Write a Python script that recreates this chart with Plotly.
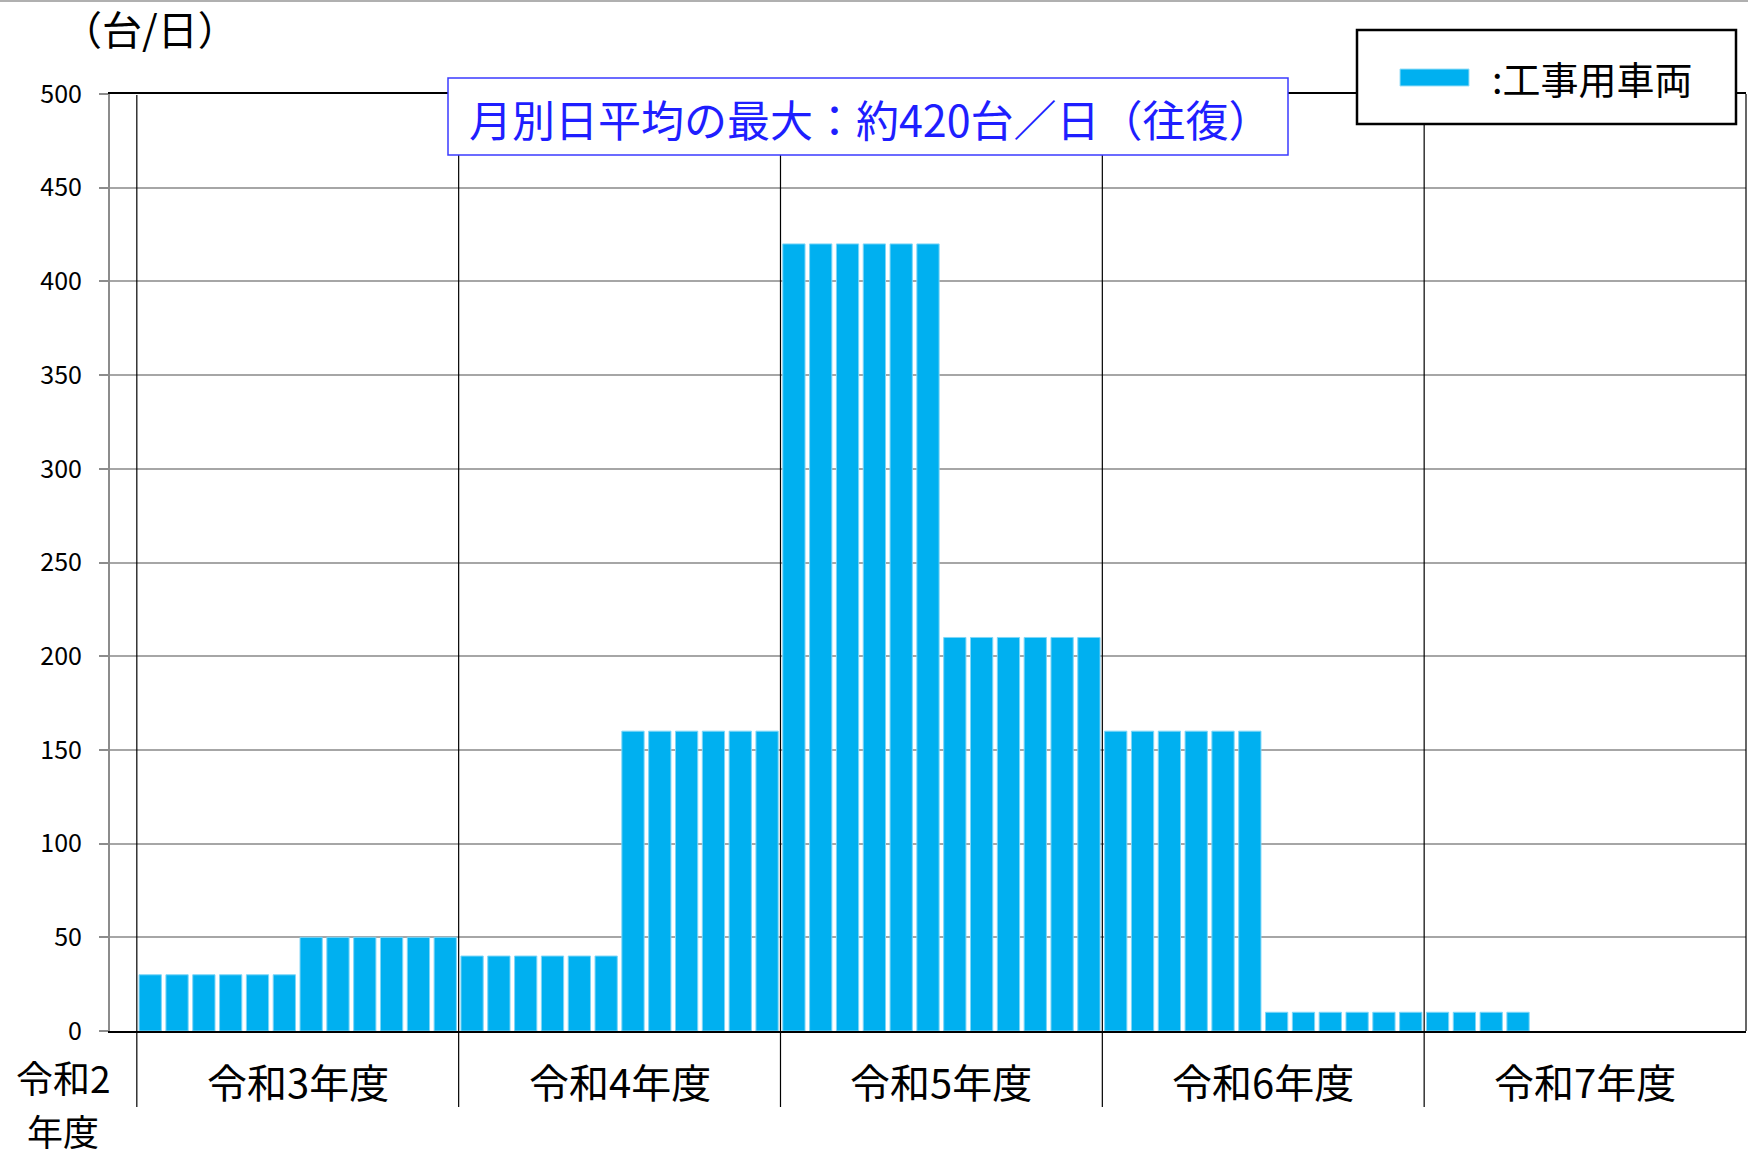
import plotly.graph_objects as go

# ---------------- data ----------------
fiscal_years = ["令和2年度", "令和3年度", "令和4年度", "令和5年度", "令和6年度", "令和7年度"]
r2_values = [None]  # 令和2年度 (March only, no traffic)
r3_values = [30, 30, 30, 30, 30, 30, 50, 50, 50, 50, 50, 50]
r4_values = [40, 40, 40, 40, 40, 40, 160, 160, 160, 160, 160, 160]
r5_values = [420, 420, 420, 420, 420, 420, 210, 210, 210, 210, 210, 210]
r6_values = [160, 160, 160, 160, 160, 160, 10, 10, 10, 10, 10, 10]
r7_values = [10, 10, 10, 10, None, None, None, None, None, None, None, None]
y_ticks = [0, 50, 100, 150, 200, 250, 300, 350, 400, 450, 500]
series_name = "工事用車両"
y_unit = "（台/日）"
headline = "月別日平均の最大：約420台／日（往復）"

monthly = r2_values + r3_values + r4_values + r5_values + r6_values + r7_values
x_pos = list(range(len(monthly)))
year_sizes = [len(r2_values), len(r3_values), len(r4_values), len(r5_values), len(r6_values), len(r7_values)]

# ---------------- layout geometry ----------------
W, H = 1748, 1157
L, R, T, B = 110, 2, 94, 126
PW, PH = W - L - R, H - T - B
FONT = "Noto Sans CJK JP"
CYAN = "#00B0F0"
BLUE = "#1E1EFF"


def px_x(p):
    return (p - L) / PW


def px_y(p):
    return (H - B - p) / PH


fig = go.Figure()
fig.add_trace(go.Bar(
    x=x_pos, y=monthly, name=series_name,
    marker=dict(color=CYAN, line=dict(color="#7FD6F7", width=1)),
    showlegend=False,
))

shapes = []
annotations = []

# fiscal-year dividers and labels
start = 0
bounds = []
for n in year_sizes:
    bounds.append((start - 0.5, start + n - 0.5))
    start += n
for i, (a, b) in enumerate(bounds):
    if i > 0:
        shapes.append(dict(type="line", xref="x", yref="paper", x0=a, x1=a,
                           y0=px_y(1107), y1=px_y(95), line=dict(color="black", width=1.2),
                           layer="above"))
for i, (a, b) in enumerate(bounds):
    if i == 0:
        first, second = fiscal_years[0][:3], fiscal_years[0][3:]
        annotations.append(dict(xref="paper", yref="paper", x=px_x(63), y=px_y(1077),
                                text=first, showarrow=False,
                                font=dict(size=37, color="black", family=FONT),
                                xanchor="center", yanchor="middle"))
        annotations.append(dict(xref="paper", yref="paper", x=px_x(63), y=px_y(1130),
                                text=second, showarrow=False,
                                font=dict(size=36, color="black", family=FONT),
                                xanchor="center", yanchor="middle"))
    else:
        annotations.append(dict(xref="x", yref="paper", x=(a + b) / 2, y=px_y(1081),
                                text=fiscal_years[i], showarrow=False,
                                font=dict(size=40, color="black", family=FONT),
                                xanchor="center", yanchor="middle"))

# right frame line
shapes.append(dict(type="line", xref="paper", yref="paper", x0=1, x1=1, y0=0, y1=1,
                   line=dict(color="black", width=1.2), layer="above"))
# top gray border line of image
shapes.append(dict(type="line", xref="paper", yref="paper", x0=px_x(0), x1=px_x(W), y0=px_y(1), y1=px_y(1),
                   line=dict(color="#B0B0B0", width=2), layer="above"))

# headline box
shapes.append(dict(type="rect", xref="paper", yref="paper", x0=px_x(448), x1=px_x(1288),
                   y0=px_y(155), y1=px_y(78), fillcolor="white",
                   line=dict(color="#3B3BFF", width=1.5), layer="above"))
annotations.append(dict(xref="paper", yref="paper", x=px_x(870), y=px_y(118), text=headline,
                        showarrow=False, font=dict(size=43, color=BLUE, family=FONT),
                        xanchor="center", yanchor="middle"))

# legend box
shapes.append(dict(type="rect", xref="paper", yref="paper", x0=px_x(1357), x1=px_x(1736),
                   y0=px_y(124), y1=px_y(30), fillcolor="white",
                   line=dict(color="black", width=2.5), layer="above"))
shapes.append(dict(type="rect", xref="paper", yref="paper", x0=px_x(1400), x1=px_x(1469),
                   y0=px_y(86), y1=px_y(69), fillcolor=CYAN,
                   line=dict(color="#9ADFF7", width=1), layer="above"))
annotations.append(dict(xref="paper", yref="paper", x=px_x(1490), y=px_y(78), text=":" + series_name,
                        showarrow=False, font=dict(size=38, color="black", family=FONT),
                        xanchor="left", yanchor="middle"))

# unit label
annotations.append(dict(xref="paper", yref="paper", x=px_x(150), y=px_y(28), text=y_unit,
                        showarrow=False, font=dict(size=40, color="black", family=FONT),
                        xanchor="center", yanchor="middle"))

fig.update_layout(
    width=W, height=H,
    margin=dict(l=L, r=R, t=T, b=B, pad=0),
    paper_bgcolor="white", plot_bgcolor="white",
    bargap=0.17,
    font=dict(family=FONT, color="black"),
    shapes=shapes, annotations=annotations,
    xaxis=dict(range=[-0.5, len(monthly) - 0.5], showticklabels=False, ticks="",
               showgrid=False, zeroline=False, showline=True, linecolor="black",
               linewidth=1.5, mirror=True, fixedrange=True),
    yaxis=dict(range=[0, 500], tickvals=y_ticks, ticks="outside", ticklen=9,
               tickcolor="#8C8C8C", tickwidth=1.5, showline=True, linecolor="#8C8C8C",
               linewidth=2, gridcolor="#A6A6A6", gridwidth=1.5, zeroline=False,
               tickfont=dict(size=25, color="black", family=FONT),
               ticklabelstandoff=12, fixedrange=True),
)

fig.write_html("out.html", config={"displayModeBar": False},
               post_script="document.body.style.margin='0';")
